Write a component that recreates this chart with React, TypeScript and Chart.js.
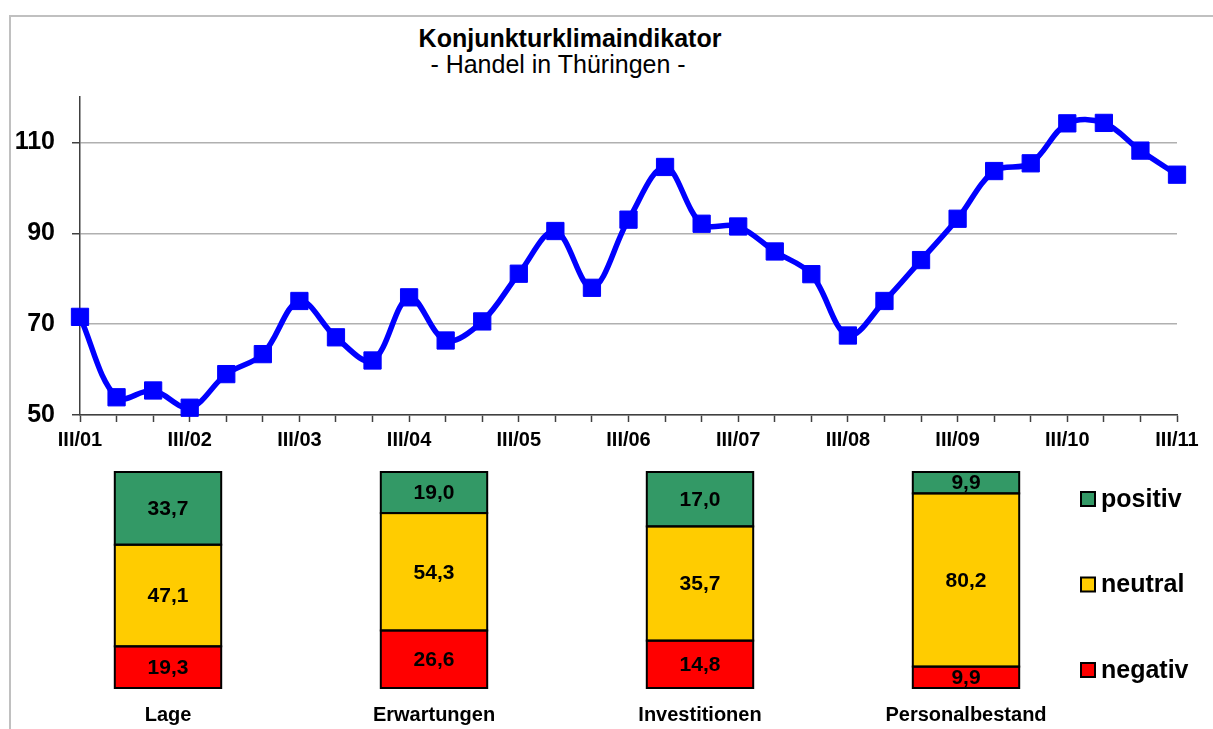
import React, { useEffect, useRef } from "react";
import { Chart, registerables } from "chart.js";

Chart.register(...registerables);

const FONT = "'Liberation Sans', Arial, sans-serif";

// ---- Line chart data ----
const periodLabels = [
  "III/01", "", "",
  "III/02", "", "",
  "III/03", "", "",
  "III/04", "", "",
  "III/05", "", "",
  "III/06", "", "",
  "III/07", "", "",
  "III/08", "", "",
  "III/09", "", "",
  "III/10", "", "",
  "III/11",
];

const climateValues = [
  71.6, 53.9, 55.4,
  51.6, 59.0, 63.4,
  75.1, 67.1, 62.0,
  75.9, 66.4, 70.6,
  81.1, 90.5, 78.0,
  93.0, 104.6, 92.1,
  91.5, 86.0, 81.0,
  67.5, 75.1, 84.1,
  93.2, 103.7, 105.4,
  114.2, 114.3, 108.2,
  102.9,
];

const yTickValues = [50, 70, 90, 110];

// ---- Bar chart data ----
const barCategories = ["Lage", "Erwartungen", "Investitionen", "Personalbestand"];
const negativValues = [19.3, 26.6, 14.8, 9.9];
const neutralValues = [47.1, 54.3, 35.7, 80.2];
const positivValues = [33.7, 19.0, 17.0, 9.9];
const seriesNames = ["negativ", "neutral", "positiv"];
const seriesColors = ["#ff0000", "#ffcc00", "#339966"];

const fmt = (v: number) => v.toFixed(1).replace(".", ",");

const valueLabelPlugin = {
  id: "valueLabels",
  afterDatasetsDraw(chart: any) {
    const ctx = chart.ctx;
    ctx.save();
    // outlines of every segment
    ctx.strokeStyle = "#000";
    ctx.lineWidth = 2;
    chart.data.datasets.forEach((_ds: any, di: number) => {
      const meta = chart.getDatasetMeta(di);
      meta.data.forEach((bar: any) => {
        const top = Math.min(bar.y, bar.base);
        const h = Math.abs(bar.base - bar.y);
        ctx.strokeRect(bar.x - bar.width / 2, top, bar.width, h);
      });
    });
    ctx.fillStyle = "#000";
    ctx.font = `bold 21px ${FONT}`;
    ctx.textAlign = "center";
    ctx.textBaseline = "middle";
    chart.data.datasets.forEach((ds: any, di: number) => {
      const meta = chart.getDatasetMeta(di);
      meta.data.forEach((bar: any, i: number) => {
        const cy = (bar.y + bar.base) / 2;
        ctx.fillText(fmt(ds.rawValues[i]), bar.x, cy + 1);
      });
    });
    ctx.restore();
  },
};

const sideLegendPlugin = {
  id: "sideLegend",
  afterDraw(chart: any) {
    const ctx = chart.ctx;
    const dsList = chart.data.datasets.slice().reverse();
    const boxX = 1081;
    const textX = 1101;
    const startY = 39;
    const step = 85.5;
    ctx.save();
    dsList.forEach((ds: any, k: number) => {
      const cy = startY + k * step;
      ctx.fillStyle = ds.backgroundColor;
      ctx.fillRect(boxX, cy - 7, 14, 14);
      ctx.strokeStyle = "#000";
      ctx.lineWidth = 2;
      ctx.strokeRect(boxX, cy - 7, 14, 14);
      ctx.fillStyle = "#000";
      ctx.font = `bold 25px ${FONT}`;
      ctx.textAlign = "left";
      ctx.textBaseline = "middle";
      ctx.fillText(ds.label, textX, cy + 1);
    });
    ctx.restore();
  },
};

function LineChart() {
  const ref = useRef<HTMLCanvasElement>(null);
  useEffect(() => {
    if (!ref.current) return;
    const chart = new Chart(ref.current, {
      type: "line",
      data: {
        labels: periodLabels,
        datasets: [
          {
            data: climateValues,
            borderColor: "#0000ff",
            backgroundColor: "#0000ff",
            borderWidth: 5.5,
            tension: 0.35,
            pointStyle: "rect",
            pointRadius: 12.2,
            pointBorderWidth: 1,
            pointBorderColor: "#0000ff",
            pointBackgroundColor: "#0000ff",
            clip: false,
          } as any,
        ],
      },
      options: {
        animation: false,
        responsive: false,
        maintainAspectRatio: false,
        layout: { padding: { top: 7, right: 36, left: 0, bottom: 0 } },
        plugins: { legend: { display: false }, tooltip: { enabled: false }, title: { display: false } },
        scales: {
          x: {
            offset: false,
            grid: { drawOnChartArea: false, drawTicks: true, tickLength: 7, tickColor: "#404040", tickWidth: 1.5 },
            border: { color: "#404040", width: 1.5 },
            ticks: {
              autoSkip: false,
              maxRotation: 0,
              minRotation: 0,
              padding: 6,
              color: "#000",
              font: { family: FONT, size: 20, weight: "bold" },
            },
            afterFit: (s: any) => {
              s.height = 45;
            },
          },
          y: {
            min: 50,
            max: 120,
            afterBuildTicks: (s: any) => {
              s.ticks = yTickValues.map((v) => ({ value: v }));
            },
            grid: { color: "#b0b0b0", lineWidth: 1.5, tickLength: 8, tickColor: "#404040", tickWidth: 1.5 },
            border: { color: "#404040", width: 1.5 },
            ticks: {
              padding: 17,
              color: "#000",
              font: { family: FONT, size: 25, weight: "bold" },
            },
            afterFit: (s: any) => {
              s.width = 80;
            },
          },
        },
      } as any,
    });
    return () => chart.destroy();
  }, []);
  return (
    <canvas
      ref={ref}
      width={1213}
      height={395}
      style={{ position: "absolute", left: 0, top: 65, width: 1213, height: 395 }}
    />
  );
}

function BarChart() {
  const ref = useRef<HTMLCanvasElement>(null);
  useEffect(() => {
    if (!ref.current) return;
    const raws = [negativValues, neutralValues, positivValues];
    const totals = barCategories.map((_, i) => raws.reduce((s, arr) => s + arr[i], 0));
    const chart = new Chart(ref.current, {
      type: "bar",
      data: {
        labels: barCategories,
        datasets: seriesNames.map((name, k) => ({
          label: name,
          data: raws[k].map((v, i) => (v / totals[i]) * 100),
          rawValues: raws[k],
          backgroundColor: seriesColors[k],
          borderWidth: 0,
          inflateAmount: 0,
          barPercentage: 0.4,
          categoryPercentage: 1,
        })) as any,
      },
      options: {
        animation: false,
        responsive: false,
        maintainAspectRatio: false,
        layout: { padding: { top: 12, right: 114, left: 35, bottom: 0 } },
        plugins: { legend: { display: false }, tooltip: { enabled: false } },
        scales: {
          x: {
            stacked: true,
            grid: { display: false },
            border: { display: false },
            ticks: {
              padding: 7,
              color: "#000",
              maxRotation: 0,
              autoSkip: false,
              font: { family: FONT, size: 20, weight: "bold" },
            },
            afterFit: (s: any) => {
              s.height = 41;
            },
          },
          y: { stacked: true, display: false, min: 0, max: 100 },
        },
      } as any,
      plugins: [valueLabelPlugin, sideLegendPlugin],
    });
    return () => chart.destroy();
  }, []);
  return (
    <canvas
      ref={ref}
      width={1213}
      height={269}
      style={{ position: "absolute", left: 0, top: 460, width: 1213, height: 269 }}
    />
  );
}

export default function App() {
  return (
    <div
      style={{
        position: "absolute",
        left: 0,
        top: 0,
        width: 1213,
        height: 729,
        overflow: "hidden",
        background: "#fff",
        fontFamily: FONT,
      }}
    >
      <div
        style={{
          position: "absolute",
          left: 9,
          top: 15,
          width: 1400,
          height: 1000,
          borderTop: "2px solid #c0c0c0",
          borderLeft: "2px solid #c0c0c0",
        }}
      />
      <div
        style={{
          position: "absolute",
          left: 270,
          top: 23,
          width: 600,
          textAlign: "center",
          fontSize: 25,
          lineHeight: "30px",
          fontWeight: "bold",
          color: "#000",
        }}
      >
        Konjunkturklimaindikator
      </div>
      <div
        style={{
          position: "absolute",
          left: 258,
          top: 49,
          width: 600,
          textAlign: "center",
          fontSize: 25,
          lineHeight: "30px",
          color: "#000",
        }}
      >
        - Handel in Thüringen -
      </div>
      <LineChart />
      <BarChart />
    </div>
  );
}
